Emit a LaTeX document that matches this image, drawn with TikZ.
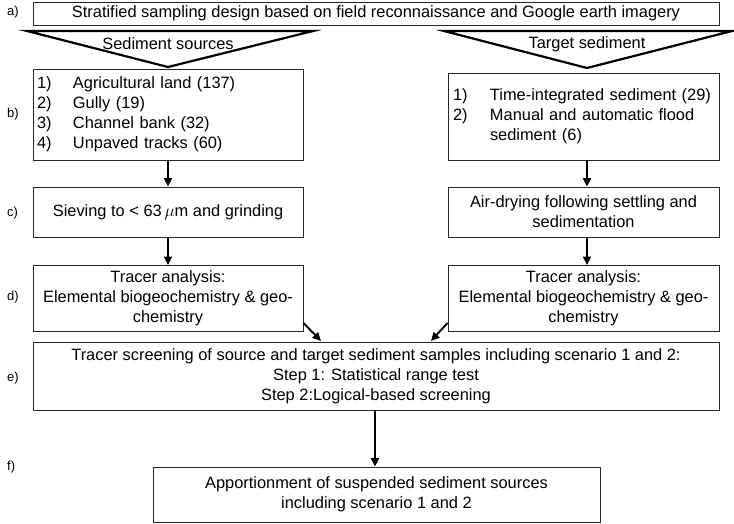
\documentclass[tikz,border=0pt]{standalone}
\usepackage{fontspec}
\setmainfont{Liberation Sans}
\usetikzlibrary{arrows.meta}
\begin{document}
\begin{tikzpicture}[x=1pt,y=-1pt,
  box/.style={draw=black!85, line width=0.9pt, inner xsep=4pt, inner ysep=0pt,
    font=\fontsize{16.4}{20}\selectfont, align=center},
  lbl/.style={font=\fontsize{13}{15}\selectfont, anchor=west, inner sep=0pt},
  txt/.style={font=\fontsize{16.4}{20}\selectfont, inner sep=0pt},
  arr/.style={-{Triangle[length=8.5pt,width=8pt]}, line width=1.9pt},
  tri/.style={draw, line width=2.2pt, line join=miter}]
\useasboundingbox (0,0) rectangle (734,524);

% a
\node[box, minimum width=686, minimum height=23] (a) at (376,13.5)
  {Stratified sampling design based on field reconnaissance and Google earth imagery};
\node[lbl] (la) at (7,12) {a)};

% triangles
\coordinate (t1l) at (27,31);
\coordinate (t1r) at (313,31);
\coordinate (t1a) at (168,67);
\coordinate (t2l) at (444,31);
\coordinate (t2r) at (732,31);
\coordinate (t2a) at (587,68);
\draw[tri] (t1l) -- (t1r) -- (t1a) -- cycle;
\draw[tri] (t2l) -- (t2r) -- (t2a) -- cycle;
\node[txt] (ts) at (168,44) {Sediment sources};
\node[txt] (tt) at (587,44) {Target sediment};

% b
\node[box, minimum width=270, minimum height=91, text width=262, align=left] (bL) at (168,114.5)
  {\begin{tabular}{@{}p{36pt}@{}l@{}}1) & Agricultural land (137)\\ 2) & Gully (19)\\ 3) & Channel bank (32)\\ 4) & Unpaved tracks (60)\end{tabular}};
\node[box, minimum width=271, minimum height=87, text width=261, inner xsep=5pt, align=left] (bR) at (583.5,116.5)
  {\begin{tabular}{@{}p{37pt}@{}l@{}}1) & Time-integrated sediment (29)\\ 2) & Manual and automatic flood\\ & sediment (6)\end{tabular}};
\node[lbl] (lb) at (7,114) {b)};

% c
\node[box, minimum width=270, minimum height=50] (cL) at (168,212)
  {Sieving to < 63\,$\mu$m and grinding};
\node[box, minimum width=271, minimum height=50] (cR) at (583.5,212)
  {Air-drying following settling and\\ sedimentation};
\node[lbl] (lc) at (7,213) {c)};

% d
\node[box, minimum width=270, minimum height=66] (dL) at (168,298.5)
  {Tracer analysis:\\ Elemental biogeochemistry \& geo-\\ chemistry};
\node[box, minimum width=271, minimum height=66] (dR) at (583.5,298.5)
  {Tracer analysis:\\ Elemental biogeochemistry \& geo-\\ chemistry};
\node[lbl] (ld) at (7,297) {d)};

% e
\node[box, minimum width=686, minimum height=68] (e) at (376,376)
  {Tracer screening of source and target sediment samples including scenario 1 and 2:\\ Step 1: Statistical range test\\ Step 2:Logical-based screening};
\node[lbl] (le) at (7,378) {e)};

% f
\node[box, minimum width=447, minimum height=55] (f) at (376.5,494.5)
  {Apportionment of suspended sediment sources\\ including scenario 1 and 2};
\node[lbl] (lf) at (7,467) {f)};

% arrows
\draw[arr] (bL.south) -- (cL.north);
\draw[arr] ([xshift=3.5pt]bR.south) -- ([xshift=3.5pt]cR.north);
\draw[arr] (cL.south) -- (dL.north);
\draw[arr] ([xshift=3.5pt]cR.south) -- ([xshift=3.5pt]dR.north);
\coordinate (eL) at (321,341);
\coordinate (eR) at (431,341);
\draw[arr] ([yshift=9pt]dL.south east) -- (eL);
\draw[arr] ([yshift=9pt]dR.south west) -- (eR);
\draw[arr] ([xshift=-1.5pt]e.south -| f.north) -- ([xshift=-1.5pt]f.north);
\end{tikzpicture}
\end{document}
